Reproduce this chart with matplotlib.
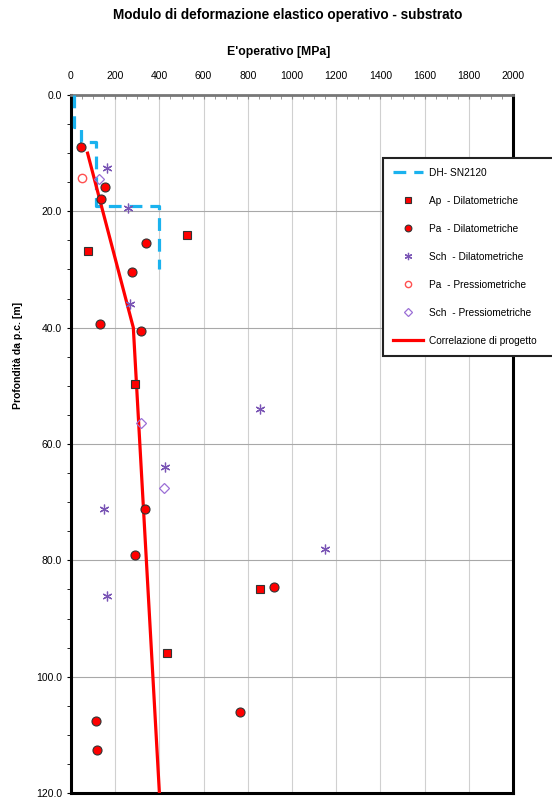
import numpy as np
import matplotlib
matplotlib.use("Agg")
import matplotlib.pyplot as plt
from matplotlib.ticker import MultipleLocator, FormatStrFormatter

plt.rcParams["font.family"] = ["Liberation Sans", "DejaVu Sans"]

# DH-SN2120 step profile (E [MPa], depth [m])
dh_e = [12, 12, 45, 45, 113, 113, 400, 400]
dh_z = [0, 5.5, 5.5, 8, 8, 19, 19, 30]

# Ap - Dilatometriche
ap_dil_e = [526, 75, 288, 854, 436]
ap_dil_z = [24.0, 26.9, 49.6, 85.0, 96.0]

# Pa - Dilatometriche
pa_dil_e = [44, 154, 136, 338, 275, 131, 318, 335, 291, 918, 765, 112, 119]
pa_dil_z = [9.0, 15.9, 17.9, 25.4, 30.4, 39.4, 40.5, 71.1, 79.0, 84.6, 106.1, 107.6, 112.6]

# Sch - Dilatometriche
sch_dil_e = [163, 256, 265, 855, 427, 148, 1148, 163]
sch_dil_z = [12.5, 19.5, 36.0, 54.0, 64.0, 71.1, 78.0, 86.1]

# Pa - Pressiometriche
pa_pre_e = [50]
pa_pre_z = [14.2]

# Sch - Pressiometriche
sch_pre_e = [127, 315, 422]
sch_pre_z = [14.4, 56.4, 67.6]

# Correlazione di progetto
corr_e = [75, 282, 400]
corr_z = [10, 40, 120]

fig = plt.figure(figsize=(5.52, 8.0), dpi=100)
ax = fig.add_axes([71 / 552, 1 - 793 / 800, 442 / 552, 698 / 800])

ax.grid(True, axis="x", color="#d0d0d0", linewidth=0.8)
ax.grid(True, axis="y", color="#a8a8a8", linewidth=0.8)
ax.set_axisbelow(True)

ax.plot(dh_e, dh_z, color="#1ab2ee", linewidth=2.3, dashes=(4, 2.5),
        label="DH- SN2120", zorder=3)
ax.plot(corr_e, corr_z, color="#ff0000", linewidth=2.3,
        label="Correlazione di progetto", zorder=4)
ax.plot(ap_dil_e, ap_dil_z, linestyle="none", marker="s", markersize=6,
        markerfacecolor="#ff0000", markeredgecolor="#333333", markeredgewidth=0.8,
        label="Ap  - Dilatometriche", zorder=5)
ax.plot(pa_dil_e, pa_dil_z, linestyle="none", marker="o", markersize=6.5,
        markerfacecolor="#ff0000", markeredgecolor="#333333", markeredgewidth=0.8,
        label="Pa  - Dilatometriche", zorder=5)
ax.plot(sch_dil_e, sch_dil_z, linestyle="none", marker=(6, 2, 0), markersize=7,
        markeredgecolor="#7a55b5", markeredgewidth=0.9,
        label="Sch  - Dilatometriche", zorder=5)
ax.plot(pa_pre_e, pa_pre_z, linestyle="none", marker="o", markersize=6,
        markerfacecolor="none", markeredgecolor="#ff5050", markeredgewidth=1.0,
        label="Pa  - Pressiometriche", zorder=5)
ax.plot(sch_pre_e, sch_pre_z, linestyle="none", marker="D", markersize=5,
        markerfacecolor="none", markeredgecolor="#9b6fd6", markeredgewidth=0.9,
        label="Sch  - Pressiometriche", zorder=5)

ax.set_xlim(0, 2000)
ax.set_ylim(120, 0)
ax.xaxis.tick_top()
ax.xaxis.set_major_locator(MultipleLocator(200))
ax.xaxis.set_minor_locator(MultipleLocator(50))
ax.yaxis.set_major_locator(MultipleLocator(20))
ax.yaxis.set_minor_locator(MultipleLocator(5))
ax.yaxis.set_major_formatter(FormatStrFormatter("%.1f"))
ax.tick_params(axis="x", which="both", direction="in", labelsize=7.5, pad=10,
               length=3, color="#888888")
ax.tick_params(axis="y", which="both", direction="out", labelsize=7.5, length=3)

for side in ["left", "right", "bottom"]:
    ax.spines[side].set_linewidth(2.2)
    ax.spines[side].set_color("black")
ax.spines["top"].set_linewidth(2.0)
ax.spines["top"].set_color("#777777")

fig.text(288 / 552, 1 - 15 / 800, "Modulo di deformazione elastico operativo - substrato",
         ha="center", va="center", fontsize=9.8, fontweight="bold")
fig.text(279 / 552, 1 - 52 / 800, "E'operativo [MPa]",
         ha="center", va="center", fontsize=8.8, fontweight="bold")
fig.text(18 / 552, 1 - 355 / 800, "Profondità da p.c. [m]", rotation=90,
         ha="center", va="center", fontsize=7.5, fontweight="bold")

handles, labels = ax.get_legend_handles_labels()
order = ["DH- SN2120", "Ap  - Dilatometriche", "Pa  - Dilatometriche",
         "Sch  - Dilatometriche", "Pa  - Pressiometriche",
         "Sch  - Pressiometriche", "Correlazione di progetto"]
hmap = dict(zip(labels, handles))
leg = fig.legend([hmap[k] for k in order], order, loc="upper left",
                 bbox_to_anchor=(383 / 552, 1 - 358 / 800, 175 / 552, 200 / 800),
                 mode="expand", borderaxespad=0, fontsize=7.3,
                 frameon=True, fancybox=False, framealpha=1, edgecolor="#222222",
                 labelspacing=1.78, handlelength=3.0, handletextpad=0.6,
                 borderpad=0.95, markerscale=0.75)
leg.get_frame().set_linewidth(1.5)

fig.savefig("out.png", dpi=100)
